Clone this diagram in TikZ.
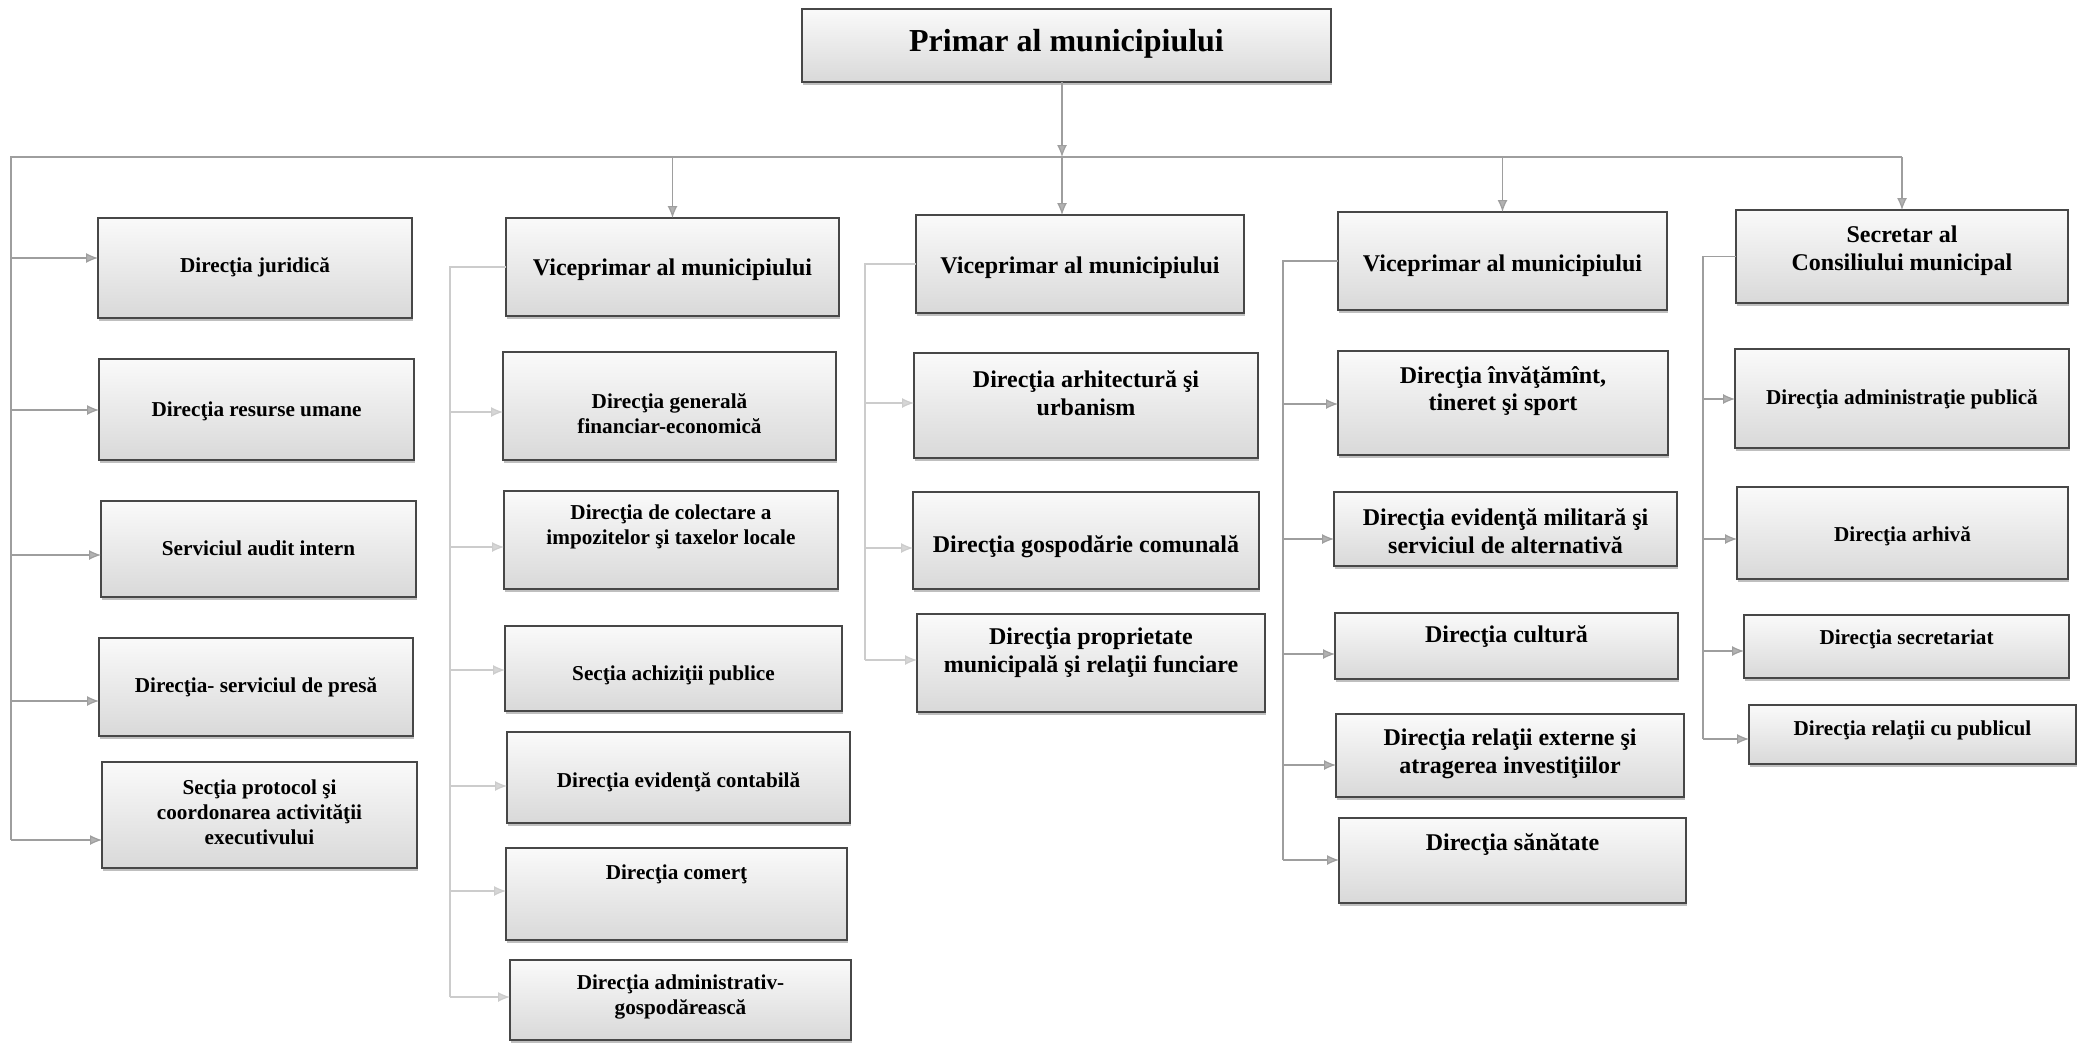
\documentclass[tikz,border=0pt]{standalone}
\usepackage{fontspec}
\setmainfont{Liberation Serif}
\usetikzlibrary{arrows.meta,shadows}
\newcommand\orgbx[8][smalltxt]{%
  \node[box, minimum width={(#5-#3)*0.5pt}, minimum height={(#6-#4)*0.5pt}] (#2) at ({(#3+#5)/2},{(#4+#6)/2}) {};
  \node[#1] (#2-t) at ({(#3+#5)/2},#7) {#8};}
\newcommand\feedarr[4][arr]{\draw[#1] (#2 |- 0,#4) -- (#3.west |- 0,#4);}
\begin{document}
\begin{tikzpicture}[x=0.5pt,y=-0.5pt,
  box/.style={draw=black!72, line width=0.7pt, top color=gray!4, bottom color=gray!30,
    inner sep=0pt, outer sep=0pt,
    drop shadow={shadow xshift=0.6pt, shadow yshift=-1.4pt, fill=black!50}},
  smalltxt/.style={font=\bfseries\fontsize{10.6}{12.6}\selectfont, align=center, inner sep=0pt},
  midtxt/.style={font=\bfseries\fontsize{12}{13.8}\selectfont, align=center, inner sep=0pt},
  toptxt/.style={font=\bfseries\fontsize{16}{19}\selectfont, align=center, inner sep=0pt},
  conn/.style={draw=black!38, line width=0.6pt},
  arr/.style={conn, -{Latex[length=6pt,width=5pt,fill=black!30]}},
  connb/.style={draw=black!20, line width=0.6pt},
  arrb/.style={connb, -{Latex[length=6pt,width=5pt,fill=black!16]}}]
\useasboundingbox (0,0) rectangle (2083,1044);
\fill[white] (0,0) rectangle (2083,1044);

% top
\orgbx[toptxt]{primar}{802}{9}{1331}{82}{44}{Primar al municipiului}

% column 1
\orgbx{j1}{98}{218}{412}{318}{267}{Direcţia juridică}
\orgbx{j2}{99}{359}{414}{460}{411}{Direcţia resurse umane}
\orgbx{j3}{101}{501}{416}{597}{548}{Serviciul audit intern}
\orgbx{j4}{99}{638}{413}{736}{687}{Direcţia- serviciul de presă}
\orgbx{j5}{102}{762}{417}{868}{812}{Secţia protocol şi\\coordonarea activităţii\\executivului}

% column 2
\orgbx[midtxt]{vp2}{506}{218}{839}{316}{270}{Viceprimar al municipiului}
\orgbx{f1}{503}{352}{836}{460}{414}{Direcţia generală\\financiar-economică}
\orgbx{f2}{504}{491}{838}{589}{527}{Direcţia de colectare a\\impozitelor şi taxelor locale}
\orgbx{f3}{505}{626}{842}{711}{675}{Secţia achiziţii publice}
\orgbx{f4}{507}{732}{850}{823}{782}{Direcţia evidenţă contabilă}
\orgbx{f5}{506}{848}{847}{940}{874}{Direcţia comerţ}
\orgbx{f6}{510}{960}{851}{1040}{997}{Direcţia administrativ-\\gospodărească}

% column 3
\orgbx[midtxt]{vp3}{916}{215}{1244}{313}{268}{Viceprimar al municipiului}
\orgbx[midtxt]{a1}{914}{353}{1258}{458}{393}{Direcţia arhitectură şi\\urbanism}
\orgbx[midtxt]{a2}{913}{492}{1259}{589}{547}{Direcţia gospodărie comunală}
\orgbx[midtxt]{a3}{917}{614}{1265}{712}{653}{Direcţia proprietate\\municipală şi relaţii funciare}

% column 4
\orgbx[midtxt]{vp4}{1338}{212}{1667}{310}{266}{Viceprimar al municipiului}
\orgbx[midtxt]{e1}{1338}{351}{1668}{455}{391}{Direcţia învăţămînt,\\tineret şi sport}
\orgbx[midtxt]{e2}{1334}{492}{1677}{566}{531}{Direcţia evidenţă militară şi\\serviciul de alternativă}
\orgbx[midtxt]{e3}{1335}{613}{1678}{679}{637}{Direcţia cultură}
\orgbx[midtxt]{e4}{1336}{714}{1684}{797}{754}{Direcţia relaţii externe şi\\atragerea investiţiilor}
\orgbx[midtxt]{e5}{1339}{818}{1686}{903}{845}{Direcţia sănătate}

% column 5
\orgbx[midtxt]{sec}{1736}{210}{2068}{303}{251}{Secretar al\\Consiliului municipal}
\orgbx{s1}{1735}{349}{2069}{448}{399}{Direcţia administraţie publică}
\orgbx{s2}{1737}{487}{2068}{579}{536}{Direcţia arhivă}
\orgbx{s3}{1744}{615}{2069}{678}{639}{Direcţia secretariat}
\orgbx{s4}{1749}{705}{2076}{764}{730}{Direcţia relaţii cu publicul}

% connectors: main bus
\coordinate (busC) at (1062,157);
\coordinate (c1top) at (11,157);
\coordinate (c1end) at (11,840);
\draw[conn] (sec.north |- busC) -- (c1top) -- (c1end);
\draw[arr] (primar.south -| busC) -- (busC);
\draw[arr] (busC) -- (vp3.north -| busC);
\draw[arr] (vp2.north |- busC) -- (vp2.north);
\draw[arr] (vp4.north |- busC) -- (vp4.north);
\draw[arr] (sec.north |- busC) -- (sec.north);

% column 1 feeds
\feedarr{c1top}{j1}{258}
\feedarr{c1top}{j2}{410}
\feedarr{c1top}{j3}{555}
\feedarr{c1top}{j4}{701}
\feedarr{c1top}{j5}{840}

% column 2 feeds
\coordinate (c2end) at (450,997);
\draw[connb] (vp2.west) -| (c2end);
\feedarr[arrb]{c2end}{f1}{412}
\feedarr[arrb]{c2end}{f2}{547}
\feedarr[arrb]{c2end}{f3}{670}
\feedarr[arrb]{c2end}{f4}{786}
\feedarr[arrb]{c2end}{f5}{891}
\feedarr[arrb]{c2end}{f6}{997}

% column 3 feeds
\coordinate (c3end) at (865,660);
\draw[connb] (vp3.west) -| (c3end);
\feedarr[arrb]{c3end}{a1}{403}
\feedarr[arrb]{c3end}{a2}{548}
\feedarr[arrb]{c3end}{a3}{660}

% column 4 feeds
\coordinate (c4end) at (1283,860);
\draw[conn] (vp4.west) -| (c4end);
\feedarr{c4end}{e1}{404}
\feedarr{c4end}{e2}{539}
\feedarr{c4end}{e3}{654}
\feedarr{c4end}{e4}{765}
\feedarr{c4end}{e5}{860}

% column 5 feeds
\coordinate (c5end) at (1703,739);
\draw[conn] (sec.west) -| (c5end);
\feedarr{c5end}{s1}{399}
\feedarr{c5end}{s2}{539}
\feedarr{c5end}{s3}{651}
\feedarr{c5end}{s4}{739}
\end{tikzpicture}
\end{document}
